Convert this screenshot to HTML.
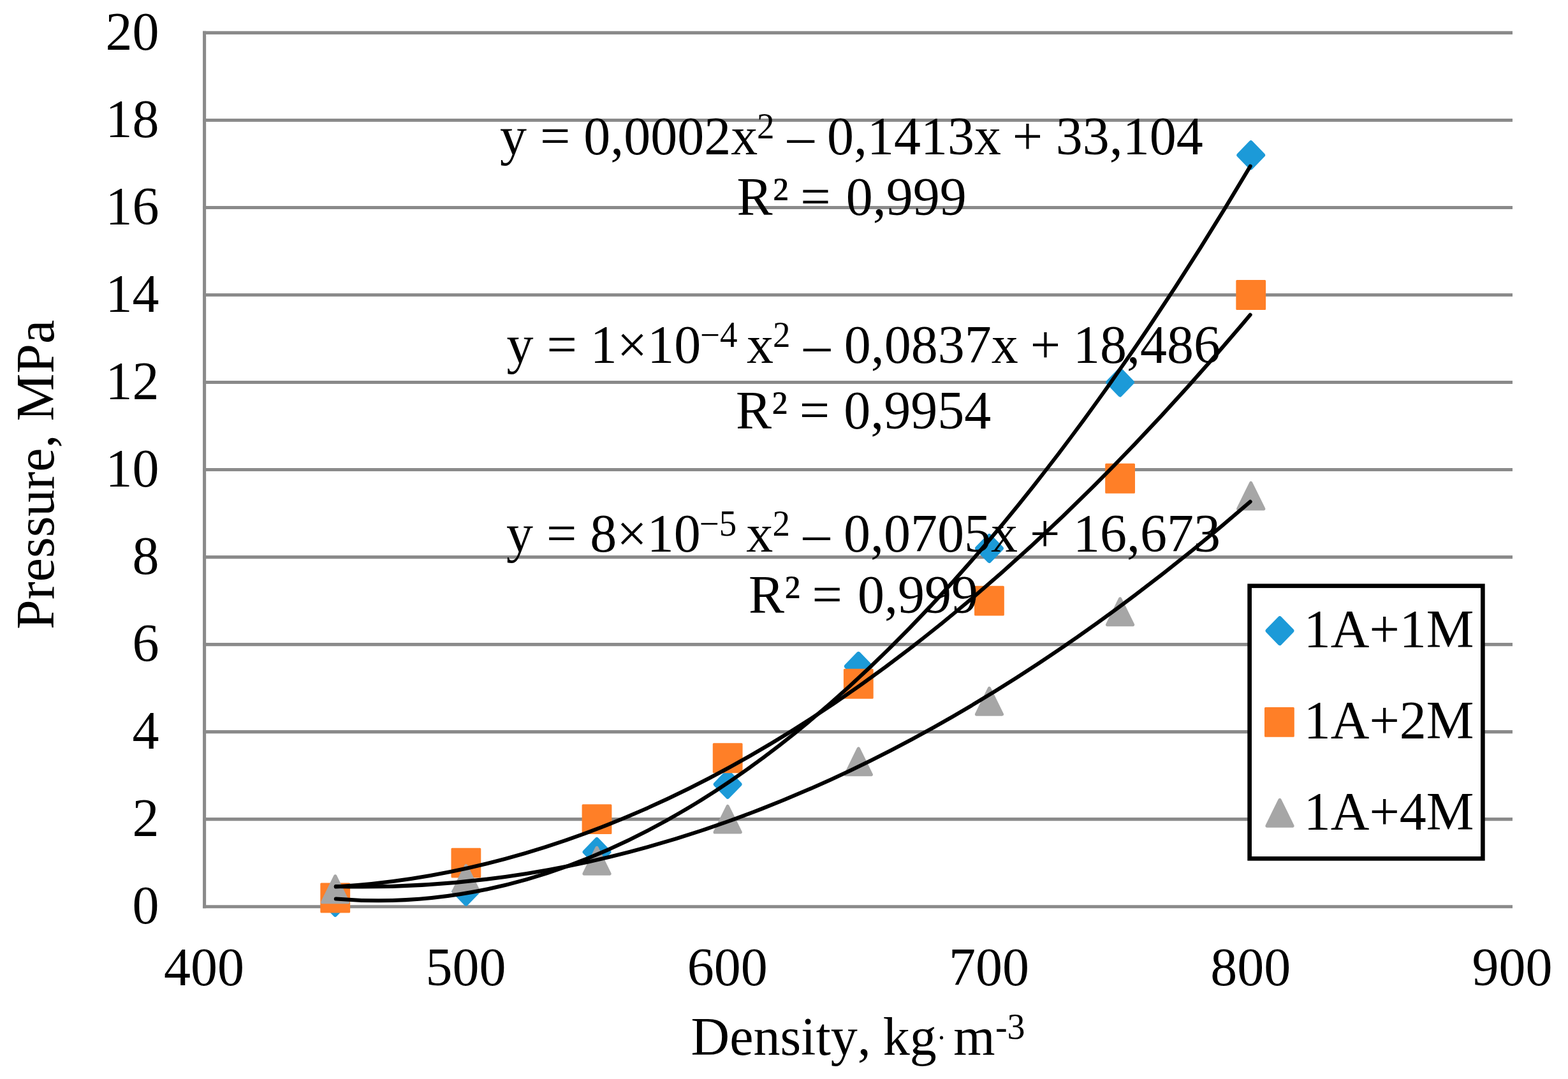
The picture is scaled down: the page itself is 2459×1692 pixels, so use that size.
<!DOCTYPE html>
<html lang="en"><head><meta charset="utf-8"><title>Pressure vs density</title>
<style>
html,body{margin:0;padding:0;background:#fff;}
body{width:2459px;height:1692px;overflow:hidden;}
svg{display:block;}
text{font-family:"Liberation Serif",serif;fill:#000;white-space:pre;font-kerning:none;}
</style></head><body>
<svg width="2459" height="1692" viewBox="0 0 2459 1692">
<rect width="2459" height="1692" fill="#fff"/>
<g stroke="#8a8a8a" stroke-width="5.1" fill="none">
<line x1="318.05" y1="1421.70" x2="2372.00" y2="1421.70"/>
<line x1="318.05" y1="1284.67" x2="2372.00" y2="1284.67"/>
<line x1="318.05" y1="1147.64" x2="2372.00" y2="1147.64"/>
<line x1="318.05" y1="1010.61" x2="2372.00" y2="1010.61"/>
<line x1="318.05" y1="873.58" x2="2372.00" y2="873.58"/>
<line x1="318.05" y1="736.55" x2="2372.00" y2="736.55"/>
<line x1="318.05" y1="599.52" x2="2372.00" y2="599.52"/>
<line x1="318.05" y1="462.49" x2="2372.00" y2="462.49"/>
<line x1="318.05" y1="325.46" x2="2372.00" y2="325.46"/>
<line x1="318.05" y1="188.43" x2="2372.00" y2="188.43"/>
<line x1="318.05" y1="51.40" x2="2372.00" y2="51.40"/>
<line x1="320.60" y1="48.85" x2="320.60" y2="1424.25"/>
</g>
<g font-size="84">
<text transform="matrix(1 0 0 1.02 0 1448.2)" x="249.5" y="0" text-anchor="end">0</text>
<text transform="matrix(1 0 0 1.02 0 1311.2)" x="249.5" y="0" text-anchor="end">2</text>
<text transform="matrix(1 0 0 1.02 0 1174.1)" x="249.5" y="0" text-anchor="end">4</text>
<text transform="matrix(1 0 0 1.02 0 1037.1)" x="249.5" y="0" text-anchor="end">6</text>
<text transform="matrix(1 0 0 1.02 0 900.1)" x="249.5" y="0" text-anchor="end">8</text>
<text transform="matrix(1 0 0 1.02 0 763.1)" x="249.5" y="0" text-anchor="end">10</text>
<text transform="matrix(1 0 0 1.02 0 626.0)" x="249.5" y="0" text-anchor="end">12</text>
<text transform="matrix(1 0 0 1.02 0 489.0)" x="249.5" y="0" text-anchor="end">14</text>
<text transform="matrix(1 0 0 1.02 0 352.0)" x="249.5" y="0" text-anchor="end">16</text>
<text transform="matrix(1 0 0 1.02 0 214.9)" x="249.5" y="0" text-anchor="end">18</text>
<text transform="matrix(1 0 0 1.02 0 77.9)" x="249.5" y="0" text-anchor="end">20</text>
<text transform="matrix(1 0 0 1.02 0 1545.0)" x="320.1" y="0" text-anchor="middle">400</text>
<text transform="matrix(1 0 0 1.02 0 1545.0)" x="730.4" y="0" text-anchor="middle">500</text>
<text transform="matrix(1 0 0 1.02 0 1545.0)" x="1140.7" y="0" text-anchor="middle">600</text>
<text transform="matrix(1 0 0 1.02 0 1545.0)" x="1550.9" y="0" text-anchor="middle">700</text>
<text transform="matrix(1 0 0 1.02 0 1545.0)" x="1961.2" y="0" text-anchor="middle">800</text>
<text transform="matrix(1 0 0 1.02 0 1545.0)" x="2371.5" y="0" text-anchor="middle">900</text>
</g>
<g fill="#1c9ad8" stroke="#1c9ad8" stroke-linejoin="round">
<path d="M525.74 1395.15L544.84 1414.85L525.74 1434.55L506.64 1414.85Z" stroke-width="6.6"/>
<path d="M730.88 1378.02L749.98 1397.72L730.88 1417.42L711.78 1397.72Z" stroke-width="6.6"/>
<path d="M936.02 1316.36L955.12 1336.06L936.02 1355.76L916.92 1336.06Z" stroke-width="6.6"/>
<path d="M1141.16 1210.16L1160.26 1229.86L1141.16 1249.56L1122.06 1229.86Z" stroke-width="6.6"/>
<path d="M1346.30 1025.17L1365.40 1044.87L1346.30 1064.57L1327.20 1044.87Z" stroke-width="6.6"/>
<path d="M1551.44 840.18L1570.54 859.88L1551.44 879.58L1532.34 859.88Z" stroke-width="6.6"/>
<path d="M1756.58 579.82L1775.68 599.52L1756.58 619.22L1737.48 599.52Z" stroke-width="6.6"/>
<path d="M1961.72 223.54L1980.82 243.24L1961.72 262.94L1942.62 243.24Z" stroke-width="6.6"/>
</g>
<g fill="#ff7f27" stroke="#ff7f27" stroke-linejoin="round">
<rect x="503.84" y="1386.10" width="43.80" height="43.80" stroke-width="3.0"/>
<rect x="708.98" y="1331.28" width="43.80" height="43.80" stroke-width="3.0"/>
<rect x="914.12" y="1262.77" width="43.80" height="43.80" stroke-width="3.0"/>
<rect x="1119.26" y="1166.85" width="43.80" height="43.80" stroke-width="3.0"/>
<rect x="1324.40" y="1050.37" width="43.80" height="43.80" stroke-width="3.0"/>
<rect x="1529.54" y="920.20" width="43.80" height="43.80" stroke-width="3.0"/>
<rect x="1734.68" y="728.35" width="43.80" height="43.80" stroke-width="3.0"/>
<rect x="1939.82" y="440.59" width="43.80" height="43.80" stroke-width="3.0"/>
</g>
<g fill="#a6a6a6" stroke="#a6a6a6" stroke-linejoin="round">
<path d="M525.74 1373.94L545.74 1414.64L505.74 1414.64Z" stroke-width="5.2"/>
<path d="M730.88 1357.50L750.88 1398.20L710.88 1398.20Z" stroke-width="5.2"/>
<path d="M936.02 1329.41L956.02 1370.11L916.02 1370.11Z" stroke-width="5.2"/>
<path d="M1141.16 1264.32L1161.16 1305.02L1121.16 1305.02Z" stroke-width="5.2"/>
<path d="M1346.30 1173.88L1366.30 1214.58L1326.30 1214.58Z" stroke-width="5.2"/>
<path d="M1551.44 1079.33L1571.44 1120.03L1531.44 1120.03Z" stroke-width="5.2"/>
<path d="M1756.58 938.87L1776.58 979.57L1736.58 979.57Z" stroke-width="5.2"/>
<path d="M1961.72 757.31L1981.72 798.01L1941.72 798.01Z" stroke-width="5.2"/>
</g>
<g fill="none" stroke="#000" stroke-width="6.0" stroke-linecap="round">
<path d="M526.77 1409.51Q1243.73 1468.75 1960.69 260.67"/>
<path d="M526.77 1390.52Q1243.73 1347.61 1960.69 493.69"/>
<path d="M526.77 1390.04Q1243.73 1408.59 1960.69 786.71"/>
</g>
<g font-size="84">
<text transform="matrix(1 0 0 1.02 0 242.2)"><tspan x="784.0" y="0.0" font-size="84">y = 0,0002x</tspan><tspan x="1187.1" y="-24.8" font-size="55">2</tspan><tspan x="1234.8" y="0.0" font-size="84">–</tspan><tspan x="1297.0" y="0.0" font-size="84">0,1413x</tspan><tspan x="1587.7" y="0.0" font-size="84">+</tspan><tspan x="1655.7" y="0.0" font-size="84">33,104</tspan></text>
<text transform="matrix(1 0 0 1.02 0 337.1)"><tspan x="1155.5" y="0.0" font-size="84">R²</tspan><tspan x="1255.3" y="0.0" font-size="84">=</tspan><tspan x="1326.7" y="0.0" font-size="84">0,999</tspan></text>
<text transform="matrix(1 0 0 1.02 0 569.2)"><tspan x="794.5" y="0.0" font-size="84">y = 1×10</tspan><tspan x="1098.0" y="-24.5" font-size="55">−4</tspan><tspan x="1171.1" y="0.0" font-size="84">x</tspan><tspan x="1212.0" y="-24.5" font-size="55">2</tspan><tspan x="1260.3" y="0.0" font-size="84">–</tspan><tspan x="1323.8" y="0.0" font-size="84">0,0837x</tspan><tspan x="1615.8" y="0.0" font-size="84">+</tspan><tspan x="1683.1" y="0.0" font-size="84">18,486</tspan></text>
<text transform="matrix(1 0 0 1.02 0 671.9)"><tspan x="1153.9" y="0.0" font-size="84">R²</tspan><tspan x="1253.7" y="0.0" font-size="84">=</tspan><tspan x="1323.2" y="0.0" font-size="84">0,9954</tspan></text>
<text transform="matrix(1 0 0 1.02 0 865.3)"><tspan x="794.0" y="0.0" font-size="84">y = 8×10</tspan><tspan x="1096.7" y="-24.5" font-size="55">−5</tspan><tspan x="1170.3" y="0.0" font-size="84">x</tspan><tspan x="1211.5" y="-24.5" font-size="55">2</tspan><tspan x="1259.5" y="0.0" font-size="84">–</tspan><tspan x="1323.0" y="0.0" font-size="84">0,0705x</tspan><tspan x="1615.0" y="0.0" font-size="84">+</tspan><tspan x="1683.1" y="0.0" font-size="84">16,673</tspan></text>
<text transform="matrix(1 0 0 1.02 0 961.0)"><tspan x="1174.0" y="0.0" font-size="84">R²</tspan><tspan x="1273.6" y="0.0" font-size="84">=</tspan><tspan x="1345.1" y="0.0" font-size="84">0,999</tspan></text>
</g>
<text font-size="84" transform="translate(84,0) rotate(-90) scale(1,1.02)"><tspan x="-987.0" y="0">Pressure,</tspan><tspan x="-660.4" y="0">MPa</tspan></text>
<g font-size="84"><text transform="matrix(1 0 0 1.02 0 1653.5)"><tspan x="1083.5" y="0.0" font-size="84">Density,</tspan><tspan x="1384.8" y="0.0" font-size="84">kg</tspan><tspan x="1469.0" y="-10.5" font-size="45">·</tspan><tspan x="1495.2" y="0.0" font-size="84">m</tspan><tspan x="1560.9" y="-23.9" font-size="56">-3</tspan></text></g>
<rect x="1959.65" y="918.75" width="365.7" height="427.6" fill="#fff" stroke="#000" stroke-width="6.7"/>
<g fill="#1c9ad8" stroke="#1c9ad8" stroke-linejoin="round"><path d="M2007.00 969.45L2026.10 989.15L2007.00 1008.85L1987.90 989.15Z" stroke-width="6.6"/></g>
<g fill="#ff7f27" stroke="#ff7f27" stroke-linejoin="round"><rect x="1984.50" y="1110.50" width="43.80" height="43.80" stroke-width="3.0"/></g>
<g fill="#a6a6a6" stroke="#a6a6a6" stroke-linejoin="round"><path d="M2007.00 1254.35L2027.00 1295.05L1987.00 1295.05Z" stroke-width="5.2"/></g>
<g font-size="84"><text transform="matrix(1 0 0 1.02 0 1014.6)"><tspan x="2044.8" y="0.0" font-size="84">1A+1M</tspan></text><text transform="matrix(1 0 0 1.02 0 1157.6)"><tspan x="2044.8" y="0.0" font-size="84">1A+2M</tspan></text><text transform="matrix(1 0 0 1.02 0 1300.9)"><tspan x="2044.8" y="0.0" font-size="84">1A+4M</tspan></text></g>
</svg></body></html>
